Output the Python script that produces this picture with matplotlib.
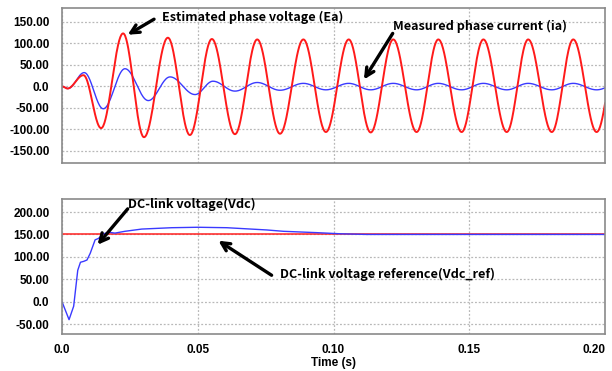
import matplotlib
matplotlib.use("Agg")
import matplotlib.pyplot as plt
import numpy as np

# extrema of the estimated phase voltage Ea (time in s, value)
ea_t = [0.0, 0.0020, 0.0079, 0.0144, 0.0225, 0.0302, 0.0390, 0.0471, 0.0552,
        0.0637, 0.0719, 0.0803, 0.0889, 0.0972, 0.1056, 0.1137, 0.1220, 0.1306,
        0.1386, 0.1472, 0.1552, 0.1638, 0.1717, 0.1804, 0.1883, 0.1969, 0.2052]
ea_v = [0, -5, 26, -97, 123, -118, 113, -113, 110, -111, 109, -110, 109, -106,
        109, -107, 109, -106, 109, -106, 109, -106, 109, -106, 109, -106, 109]

# extrema of the measured phase current ia
ia_t = [0.0, 0.0022, 0.0082, 0.0152, 0.0232, 0.0318, 0.0398, 0.0490, 0.0556,
        0.0637, 0.0719, 0.0803, 0.0889, 0.0972, 0.1056, 0.1137, 0.1220, 0.1306,
        0.1386, 0.1472, 0.1552, 0.1638, 0.1717, 0.1804, 0.1883, 0.1969, 0.2052]
ia_v = [0, -5, 32, -52, 41, -33, 22, -19, 12, -11, 9, -9, 7, -8, 7, -8, 7, -8,
        7, -8, 7, -8, 7, -8, 7, -8, 7]

# DC-link voltage Vdc
vdc_t = [0.0, 0.0026, 0.0043, 0.0058, 0.0068, 0.0080, 0.0092, 0.0104, 0.0122,
         0.0134, 0.0152, 0.0171, 0.0195, 0.0232, 0.0294, 0.0404, 0.0500, 0.0607,
         0.0754, 0.0815, 0.0938, 0.1024, 0.1122, 0.2000]
vdc_v = [0, -40, -10, 70, 88, 90, 93, 108, 138, 141, 151, 155, 153, 157, 162,
         165, 166, 165, 160, 157, 154, 151.5, 150, 150]

vdc_ref = 150

top_ticks = [150, 100, 50, 0, -50, -100, -150]
top_labels = ["150.00", "100.00", "50.00", "0.0", "-50.00", "-100.00", "-150.00"]
bot_ticks = [200, 150, 100, 50, 0, -50]
bot_labels = ["200.00", "150.00", "100.00", "50.00", "0.0", "-50.00"]
x_ticks = [0.0, 0.05, 0.10, 0.15, 0.20]
x_labels = ["0.0", "0.05", "0.10", "0.15", "0.20"]

FONT = ["Noto Sans CJK KR", "DejaVu Sans"]
TICKFONT = "Liberation Sans"


def smooth_wave(t_ext, v_ext, n=40):
    """draw a smooth curve through the extrema with half-cosine segments"""
    ts, vs = [], []
    for i in range(len(t_ext) - 1):
        s = np.linspace(0, 1, n, endpoint=False)
        ts.append(t_ext[i] + (t_ext[i + 1] - t_ext[i]) * s)
        vs.append(v_ext[i] + (v_ext[i + 1] - v_ext[i]) * (1 - np.cos(np.pi * s)) / 2)
    ts.append([t_ext[-1]])
    vs.append([v_ext[-1]])
    return np.concatenate(ts), np.concatenate(vs)


def style_axes(ax, ticks, labels):
    ax.set_xlim(0, 0.2)
    ax.set_yticks(ticks)
    ax.set_yticklabels(labels, fontsize=8.5, fontweight="bold", family=TICKFONT)
    ax.set_xticks(x_ticks)
    ax.grid(True, color="#b8b8b8", linestyle=(0, (1.5, 1.5)), linewidth=0.9)
    ax.tick_params(length=0)
    ax.tick_params(axis="y", pad=9)
    ax.tick_params(axis="x", pad=7)
    for s in ax.spines.values():
        s.set_color("#8a8a8a")
        s.set_linewidth(1.2)


fig = plt.figure(figsize=(6.12, 3.71), dpi=100)
ax1 = fig.add_axes([0.1013, 0.5606, 0.8873, 0.4178])
ax2 = fig.add_axes([0.1013, 0.0997, 0.8873, 0.3639])

t_ea, v_ea = smooth_wave(ea_t, ea_v)
t_ia, v_ia = smooth_wave(ia_t, ia_v)
ax1.plot(t_ia, v_ia, color="#3a3aff", lw=1.0)
ax1.plot(t_ea, v_ea, color="#ff1a1a", lw=1.4)
style_axes(ax1, top_ticks, top_labels)
ax1.set_ylim(-178, 182)
ax1.set_xticklabels([])

ax2.plot([0, 0.2], [vdc_ref, vdc_ref], color="#ff2020", lw=1.1)
ax2.plot(vdc_t, vdc_v, color="#3a3aff", lw=1.0)
style_axes(ax2, bot_ticks, bot_labels)
ax2.set_ylim(-72, 229)
ax2.set_xticklabels(x_labels, fontsize=8.5, fontweight="bold", family=TICKFONT)
ax2.get_xticklabels()[-1].set_ha("right")
ax2.set_xlabel("Time (s)", fontsize=8.5, fontweight="bold", family=TICKFONT, labelpad=1)

arrow = dict(arrowstyle="->", lw=2.4, color="black", mutation_scale=15,
             shrinkA=0, shrinkB=0)
txt = dict(fontsize=9.1, fontweight="bold", family=FONT, ha="left", va="center")

ax1.annotate("", xy=(0.0242, 120), xytext=(0.0339, 156), arrowprops=arrow)
ax1.text(0.0368, 160, "Estimated phase voltage (Ea)", **txt)
ax1.annotate("", xy=(0.1112, 16), xytext=(0.1218, 123), arrowprops=arrow)
ax1.text(0.1219, 140, "Measured phase current (ia)", **txt)

ax2.annotate("", xy=(0.0131, 127), xytext=(0.0242, 207), arrowprops=arrow)
ax2.text(0.0244, 217, "DC-link voltage(Vdc)", **txt)
ax2.annotate("", xy=(0.0576, 136), xytext=(0.0772, 59), arrowprops=arrow)
ax2.text(0.0803, 61, "DC-link voltage reference(Vdc_ref)", **txt)

fig.savefig("out.png", dpi=100)
